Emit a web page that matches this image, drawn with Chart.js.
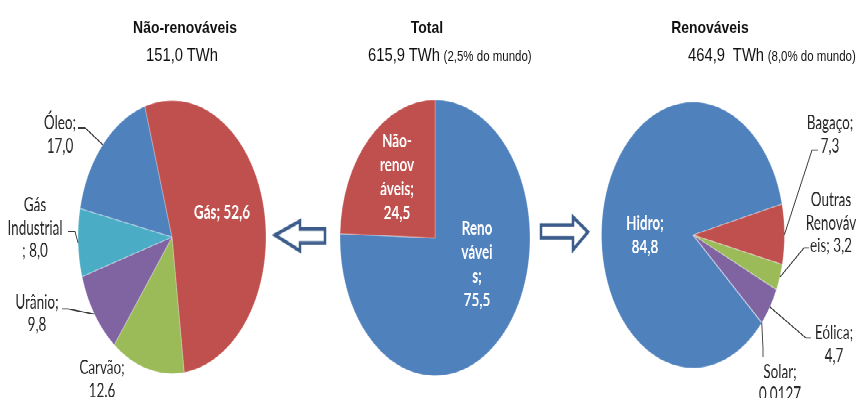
<!DOCTYPE html>
<html>
<head>
<meta charset="utf-8">
<script src="https://cdn.jsdelivr.net/npm/chart.js@4.4.0/dist/chart.umd.min.js"></script>
<style>
	body{margin:0;background:#fff;width:856px;height:398px;overflow:hidden;position:relative;}
	#stage{position:absolute;left:0;top:0;width:856px;height:274px;transform:scaleY(1.4526);transform-origin:0 0;}
	#stage canvas{position:absolute;left:0;top:0;width:856px;height:274px;}
	#stage svg{position:absolute;left:0;top:0;}
	.ttl{position:absolute;font-family:"Liberation Sans",Arial,sans-serif;color:#111;white-space:nowrap;line-height:1;}
	.ttl b{font-size:17px;}
	.big{font-size:18px;}
	.small{font-size:14px;}
	.mid{transform:translate(-50%,-50%) scaleX(0.82);}
	.left{transform-origin:0 50%;transform:translateY(-50%) scaleX(0.82);}
</style>
</head>
<body>

<div id="stage">
	<canvas id="pieNao" width="856" height="274"></canvas>
	<canvas id="pieTotal" width="856" height="274"></canvas>
	<canvas id="pieRenov" width="856" height="274"></canvas>
	<svg width="856" height="274">
		<!-- setas entre as pizzas -->
		<path d="M275,161.8 L300,152.1 L300,157.6 L325,157.6 L325,167.3 L300,167.3 L300,172.8 Z" fill="#fff" stroke="#3b5c8a" stroke-width="2.5" stroke-linejoin="miter"/>
		<path d="M541,154.9 L573,154.9 L573,149.4 L588,159.7 L573,172.1 L573,163.8 L541,163.8 Z" fill="#fff" stroke="#3b5c8a" stroke-width="2.5" stroke-linejoin="miter"/>
	</svg>
</div>

<div class="ttl mid" style="left:185px;top:27px;"><b>Não-renováveis</b></div>
<div class="ttl mid big" style="left:182px;top:55px;">151,0 TWh</div>
<div class="ttl mid" style="left:427px;top:27px;"><b>Total</b></div>
<div class="ttl left" style="left:368px;top:55px;"><span class="big">615,9 TWh</span> <span class="small">(2,5% do mundo)</span></div>
<div class="ttl mid" style="left:710px;top:27px;"><b>Renováveis</b></div>
<div class="ttl left" style="left:688px;top:55px;"><span class="big">464,9&nbsp; TWh</span> <span class="small">(8,0% do mundo)</span></div>

<script>
// DADOS
// --------------------
var naoRenovNomes  = ['Óleo', 'Gás', 'Carvão', 'Urânio', 'Gás Industrial'];
var naoRenovValores = [17.0, 52.6, 12.6, 9.8, 8.0];

var totalNomes  = ['Renováveis', 'Não-renováveis'];
var totalValores = [75.5, 24.5];

var renovNomes  = ['Hidro', 'Bagaço', 'Outras Renováveis', 'Eólica', 'Solar'];
var renovValores = [84.8, 7.3, 3.2, 4.7, 0.0127];

// paleta padrão do Excel
var azul = '#4F81BD', vermelho = '#C0504D', verde = '#9BBB59', roxo = '#8064A2', ciano = '#4BACC6';

var W = 856, H = 274;

// posição dos rótulos de cada fatia (x, y da 1a linha, quebras, linha de chamada)
var naoRenovRotulos = [
	{x:60,  y:84.7,  quebras:[5], chamada:[[78,88],[85,88]]},
	{x:222, y:146,   quebras:[], dentro:true},
	{x:102, y:253.3, quebras:[7], sep:'.'},
	{x:37,  y:207.9, quebras:[7], chamada:[[62,212.7],[68,212.7]]},
	{x:35,  y:141.3, quebras:[3,11], chamada:[[68,159.5],[75,159.5]]}
];
var totalRotulos = [
	{x:477, y:157, quebras:[4,5,2], dentro:true},
	{x:397, y:97,  quebras:[4,5,6], dentro:true}
];
var renovRotulos = [
	{x:645, y:153.5, quebras:[6], dentro:true},
	{x:830, y:84.7,  quebras:[7], chamada:[[818,103.3],[812,103.3]]},
	{x:831, y:137.7, quebras:[6,8], chamada:[[809,170.7],[804,170.7]]},
	{x:834, y:229.2, quebras:[7], chamada:[[811,232.7],[806,232.7]]},
	{x:780, y:256.1, quebras:[6], chamada:[[763,245.8],[763,240]]}
];

// METHODS
// --------------------
function formata(v, sep){
	var s = v < 0.1 ? String(v) : v.toFixed(1);
	return s.replace('.', sep || ',');
}

function quebra(texto, partes){
	var linhas = [], pos = 0;
	partes.forEach(function(n){
		linhas.push(texto.substr(pos, n).trim());
		pos += n;
	});
	linhas.push(texto.substr(pos).trim());
	return linhas;
}

var rotulosPlugin = {
	id:'rotulos',
	afterDraw:function(chart){
		var ctx = chart.ctx;
		var meta = chart.getDatasetMeta(0);
		var cfg = chart.options.plugins.rotulos;
		ctx.save();
		ctx.textAlign = 'center';
		ctx.textBaseline = 'middle';
		cfg.itens.forEach(function(r, i){
			var arc = meta.data[i];
			var texto = cfg.nomes[i] + '; ' + formata(cfg.valores[i], r.sep);
			var linhas = quebra(texto, r.quebras);

			if(r.chamada){
				var meio = (arc.startAngle + arc.endAngle) / 2;
				ctx.strokeStyle = '#3a3a3a';
				ctx.lineWidth = 0.9;
				ctx.beginPath();
				ctx.moveTo(r.chamada[0][0], r.chamada[0][1]);
				for(var k = 1; k < r.chamada.length; k++){
					ctx.lineTo(r.chamada[k][0], r.chamada[k][1]);
				}
				ctx.lineTo(arc.x + Math.cos(meio) * arc.outerRadius, arc.y + Math.sin(meio) * arc.outerRadius);
				ctx.stroke();
			}

			ctx.fillStyle = r.dentro ? '#ffffff' : '#2a2a2a';
			ctx.font = (r.dentro ? 'bold ' : '') + '13.5px Lato';
			var lh = r.dentro ? 16.5 : 15.7;
			linhas.forEach(function(l, j){
				ctx.fillText(l, r.x, r.y + j * lh);
			});
		});
		ctx.restore();
	}
};

function desenhaPizza(id, nomes, valores, cores, cx, cy, raio, rotacao, rotulos){
	var folga = raio + 4;
	return new Chart(document.getElementById(id), {
		type:'pie',
		data:{
			labels:nomes,
			datasets:[{
				data:valores,
				backgroundColor:cores,
				borderColor:'rgba(255,255,255,0.25)',
				borderWidth:1
			}]
		},
		options:{
			responsive:false,
			animation:false,
			devicePixelRatio:2,
			events:[],
			rotation:rotacao,
			radius:raio,
			layout:{padding:{left:cx - folga, right:W - cx - folga, top:cy - folga, bottom:H - cy - folga}},
			plugins:{
				legend:{display:false},
				tooltip:{enabled:false},
				rotulos:{itens:rotulos, nomes:nomes, valores:valores}
			}
		},
		plugins:[rotulosPlugin]
	});
}

desenhaPizza('pieNao', naoRenovNomes, naoRenovValores, [azul, vermelho, verde, roxo, ciano], 172, 163.2, 94, -78, naoRenovRotulos);
desenhaPizza('pieTotal', totalNomes, totalValores, [azul, vermelho], 435, 163.8, 95, 0, totalRotulos);
desenhaPizza('pieRenov', renovNomes, renovValores, [azul, vermelho, verde, roxo, ciano], 693, 161.8, 91.5, -228.7, renovRotulos);
</script>
</body>
</html>
